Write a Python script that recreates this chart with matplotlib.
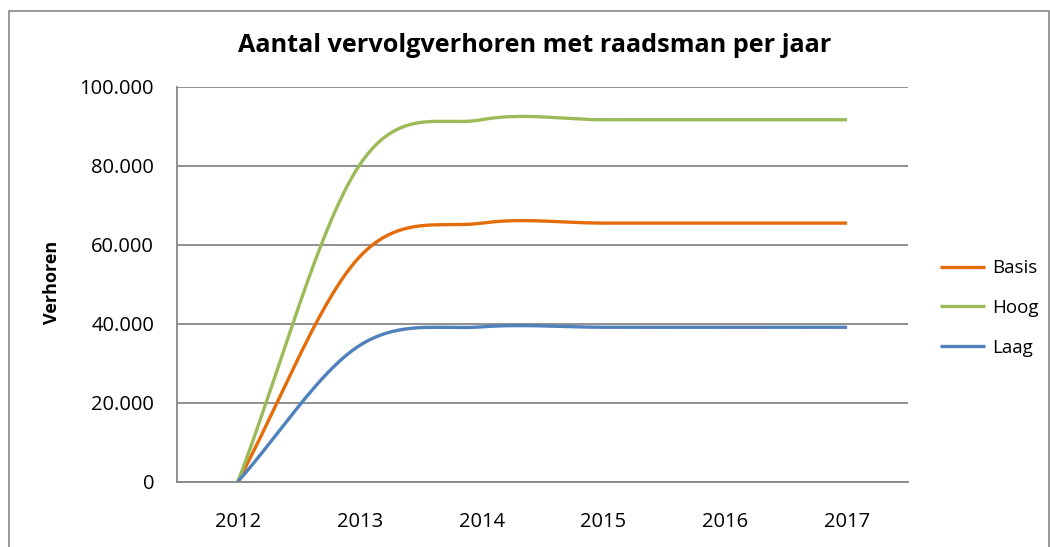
import numpy as np
import matplotlib
matplotlib.use("Agg")
import matplotlib.pyplot as plt
from matplotlib.ticker import FuncFormatter, FixedLocator
from matplotlib.patches import Rectangle

# ---- data ----
years = ["2012", "2013", "2014", "2015", "2016", "2017"]
basis = [0, 57000, 65500, 65500, 65500, 65500]
hoog = [0, 80300, 91700, 91700, 91700, 91700]
laag = [0, 34500, 39200, 39100, 39100, 39100]
series_names = ["Basis", "Hoog", "Laag"]
colors = ["#E46C0A", "#9BBB59", "#4F81BD"]

title = "Aantal vervolgverhoren met raadsman per jaar"
ylabel = "Verhoren"


def smooth(y, n=60):
    """Excel-like smoothed line (Catmull-Rom / cubic Hermite)."""
    y = np.asarray(y, dtype=float)
    k = len(y)
    m = np.zeros(k)
    m[0] = y[1] - y[0]
    m[-1] = y[-1] - y[-2]
    for i in range(1, k - 1):
        m[i] = (y[i + 1] - y[i - 1]) / 2.0
    xs, ys = [], []
    t = np.linspace(0, 1, n)
    h00 = 2 * t**3 - 3 * t**2 + 1
    h10 = t**3 - 2 * t**2 + t
    h01 = -2 * t**3 + 3 * t**2
    h11 = t**3 - t**2
    for i in range(k - 1):
        xs.append(i + t)
        ys.append(h00 * y[i] + h10 * m[i] + h01 * y[i + 1] + h11 * m[i + 1])
    return np.concatenate(xs), np.concatenate(ys)


W, H = 1050, 547
fig = plt.figure(figsize=(W / 100, H / 100), dpi=100)
plt.rcParams["font.family"] = ["Open Sans", "DejaVu Sans"]

# chart border
fig.patches.append(Rectangle((9 / W, -0.01), (1048.5 - 9) / W, 1.01 - 11 / H,
                             transform=fig.transFigure, fill=False,
                             edgecolor="#888888", linewidth=1.2))

left, right, top, bottom = 177, 908, 87, 481.5
ax = fig.add_axes([left / W, 1 - bottom / H, (right - left) / W, (bottom - top) / H])

for name, vals, c in zip(series_names, [basis, hoog, laag], colors):
    xs, ys = smooth(vals)
    ax.plot(xs, ys, color=c, linewidth=2.4, label=name, solid_capstyle="butt")

ax.set_xlim(-0.5, len(years) - 0.5)
ax.set_ylim(0, 100000)
ax.set_xticks(range(len(years)))
ax.set_xticklabels(years)
ax.yaxis.set_major_locator(FixedLocator([0, 20000, 40000, 60000, 80000, 100000]))
ax.yaxis.set_major_formatter(FuncFormatter(lambda v, p: f"{int(v):,}".replace(",", ".")))
ax.tick_params(axis="x", length=0, pad=22, labelsize=14.5, colors="#000000")
ax.tick_params(axis="y", length=0, pad=16.5, labelsize=14.5, colors="#000000")

ax.grid(axis="y", color="#878787", linewidth=1.3)
ax.set_axisbelow(True)
for s in ["top", "right"]:
    ax.spines[s].set_visible(False)
for s in ["left", "bottom"]:
    ax.spines[s].set_color("#878787")
    ax.spines[s].set_linewidth(1.3)

fig.text(535 / W, 1 - 45 / H, title, ha="center", va="center",
         fontsize=18.2, fontweight="bold")
fig.text(52 / W, 1 - 282 / H, ylabel, ha="center", va="center",
         rotation=90, fontsize=13, fontweight="bold")

ax.legend(loc="center left", bbox_to_anchor=(940 / W, 1 - 308 / H),
          bbox_transform=fig.transFigure, frameon=False, fontsize=13.5,
          handlelength=2.4, handletextpad=0.4, labelspacing=1.15,
          borderaxespad=0, borderpad=0)

fig.savefig("out.png", dpi=100)
